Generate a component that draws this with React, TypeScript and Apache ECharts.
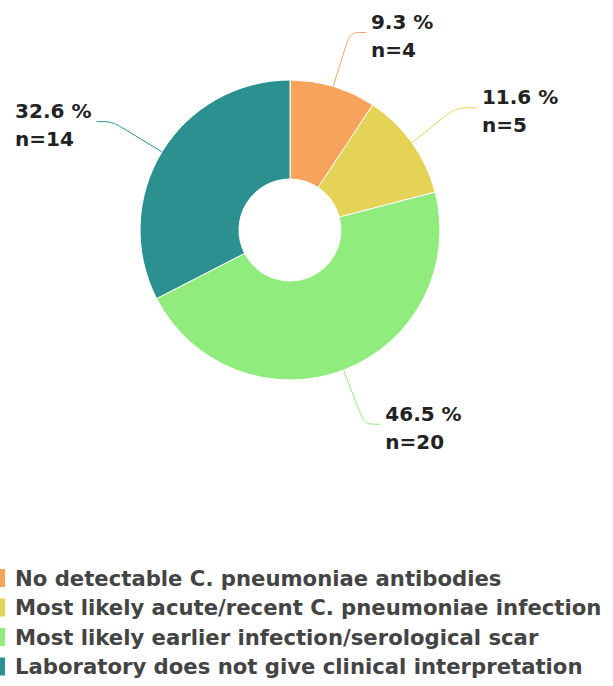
import React, { useEffect, useRef } from "react";
import * as echarts from "echarts";

const categories = [
  "No detectable C. pneumoniae antibodies",
  "Most likely acute/recent C. pneumoniae infection",
  "Most likely earlier infection/serological scar",
  "Laboratory does not give clinical interpretation",
];
const counts = [4, 5, 20, 14];
const colors = ["#F7A35C", "#E4D354", "#90ED7D", "#2B908F"];

export default function App() {
  const ref = useRef<HTMLDivElement>(null);
  useEffect(() => {
    document.body.style.margin = "0";
    const chart = echarts.init(ref.current!, null, { renderer: "svg" });
    const total = counts.reduce((a, b) => a + b, 0);
    chart.setOption({
      animation: false,
      color: colors,
      legend: {
        orient: "vertical",
        left: -3,
        top: 567,
        padding: 0,
        itemWidth: 8,
        itemHeight: 20,
        itemGap: 7.5,
        icon: "rect",
        data: categories,
        textStyle: {
          fontFamily: "DejaVu Sans",
          fontSize: 21.2,
          fontWeight: "bold",
          color: "#444",
          lineHeight: 20,
          padding: [0, 0, 0, 4],
        },
      },
      series: [
        {
          type: "pie",
          center: [290, 230],
          radius: [51, 150],
          startAngle: 90,
          clockwise: true,
          itemStyle: { borderColor: "#fff", borderWidth: 1 },
          label: {
            show: true,
            fontFamily: "DejaVu Sans",
            fontSize: 20,
            fontWeight: "bold",
            color: "#222",
            lineHeight: 28,
            padding: [7, 0, 0, 0],
            formatter: (p: any) =>
              `{a|${((p.value / total) * 100).toFixed(1)} %}\n{a|n=${p.value}}`,
            rich: {
              a: {
                fontFamily: "DejaVu Sans",
                fontSize: 20,
                fontWeight: "bold",
                color: "#222",
                lineHeight: 28,
                align: "left",
              },
            },
          },
          labelLine: { show: true, length: 58, length2: 16, smooth: true, lineStyle: { width: 1 } },
          emphasis: { disabled: true },
          data: categories.map((c, i) => ({
            name: c,
            value: counts[i],
            ...(i === 1 ? { labelLine: { length: 60, length2: 22 } } : {}),
          })),
        },
      ],
    });
    return () => chart.dispose();
  }, []);
  return <div ref={ref} style={{ width: 613, height: 686 }} />;
}
